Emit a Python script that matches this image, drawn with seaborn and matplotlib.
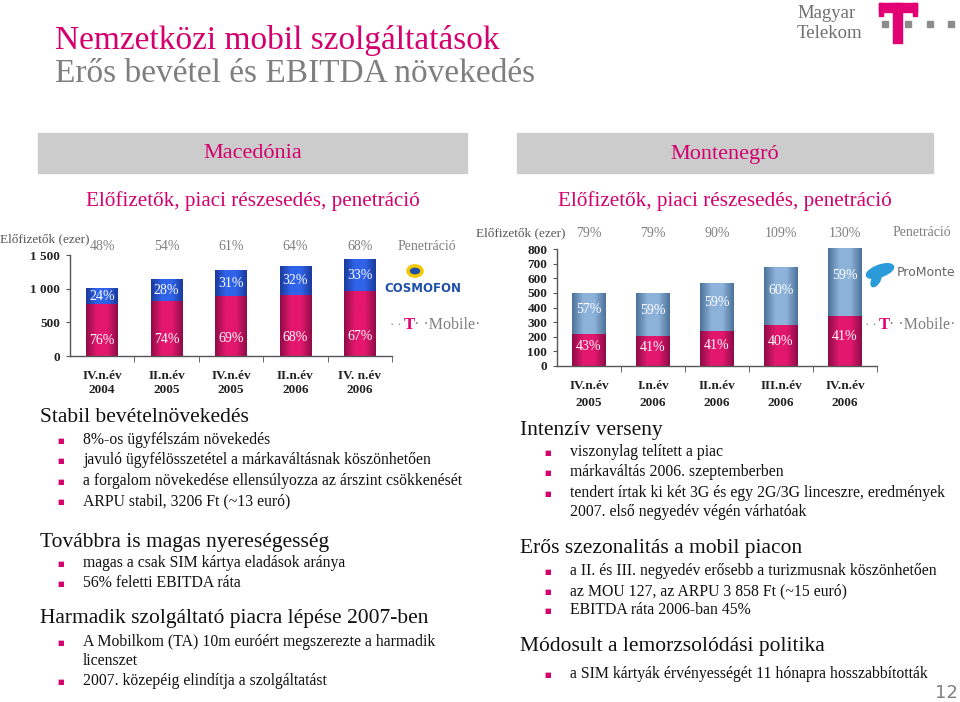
import numpy as np
import matplotlib.pyplot as plt
import matplotlib.colors as mcolors
from matplotlib.patches import Rectangle, Circle, Ellipse
import seaborn as sns

sns.set_style("white")
plt.rcParams['font.family'] = ['Liberation Serif', 'DejaVu Serif']

# Macedónia - subscribers (thousand)
mk_quarters = ['IV.n.év\n2004', 'II.n.év\n2005', 'IV.n.év\n2005', 'II.n.év\n2006', 'IV. n.év\n2006']
mk_tmobile = [770, 810, 885, 905, 960]
mk_cosmofon = [230, 330, 390, 425, 480]
mk_tmobile_share = ['76%', '74%', '69%', '68%', '67%']
mk_cosmofon_share = ['24%', '28%', '31%', '32%', '33%']
mk_penetration = ['48%', '54%', '61%', '64%', '68%']

# Montenegró - subscribers (thousand)
me_quarters = ['IV.n.év\n2005', 'I.n.év\n2006', 'II.n.év\n2006', 'III.n.év\n2006', 'IV.n.év\n2006']
me_tmobile = [215, 205, 235, 275, 340]
me_promonte = [280, 290, 330, 405, 465]
me_tmobile_share = ['43%', '41%', '41%', '40%', '41%']
me_promonte_share = ['57%', '59%', '59%', '60%', '59%']
me_penetration = ['79%', '79%', '90%', '109%', '130%']

MAGENTA = '#D4006E'
GRAY = '#7F7F7F'

W, H = 960, 702
fig = plt.figure(figsize=(9.6, 7.02), dpi=100)


def ft(x, y, s, **kw):
    kw.setdefault('va', 'center')
    return fig.text(x / W, 1 - y / H, s, **kw)


def box(x0, y0, x1, y1, color, **kw):
    # rectangle in pixel coords (top-left origin)
    fig.add_artist(Rectangle((x0 / W, 1 - y1 / H), (x1 - x0) / W, (y1 - y0) / H,
                             transform=fig.transFigure, color=color, **kw))


def shade(ax, patches, dark, light):
    # horizontal gradient like the original cylinder-ish bars
    cmap = mcolors.LinearSegmentedColormap.from_list('g', [dark, light, light, dark])
    grad = np.linspace(0, 1, 64).reshape(1, -1)
    for p in patches:
        x0, y0, w, h = p.get_x(), p.get_y(), p.get_width(), p.get_height()
        ax.imshow(grad, cmap=cmap, extent=[x0, x0 + w, y0, y0 + h], aspect='auto',
                  interpolation='bicubic', zorder=p.get_zorder() + 0.1)


def stacked(ax, quarters, low, high, high_dark, high_light, width):
    totals = [a + b for a, b in zip(low, high)]
    sns.barplot(x=quarters, y=totals, color=high_light, width=width, saturation=1, ax=ax)
    top_patches = list(ax.patches)
    sns.barplot(x=quarters, y=low, color='#C80F5E', width=width, saturation=1, ax=ax)
    low_patches = list(ax.patches[len(top_patches):])
    shade(ax, top_patches, high_dark, high_light)
    shade(ax, low_patches, '#8E0C47', '#E3176E')
    return totals


def style_axis(ax, ymax, yticks, ylabels, linespacing):
    ax.set_xlim(-0.5, 4.5)
    ax.set_ylim(0, ymax)
    ax.set_yticks(yticks)
    ax.set_yticklabels(ylabels, fontsize=9.5, fontweight='bold', color='#222222')
    ax.set_xticks(np.arange(0.5, 5, 1), minor=True)
    ax.tick_params(axis='x', which='major', length=0, pad=10, bottom=True)
    ax.tick_params(axis='x', which='minor', length=4, direction='out', bottom=True, color='#555555')
    ax.tick_params(axis='y', length=3, direction='out', left=True, color='#555555', pad=4)
    for t in ax.get_xticklabels():
        t.set_fontsize(9.5)
        t.set_fontweight('bold')
        t.set_color('#222222')
        t.set_linespacing(linespacing)
        t.set_ha('center')
    ax.set_xlabel('')
    ax.set_ylabel('')
    sns.despine(ax=ax)
    for s in ('left', 'bottom'):
        ax.spines[s].set_color('#555555')
        ax.spines[s].set_linewidth(1)


# ---------- left chart: Macedónia ----------
ax1 = fig.add_axes([70 / W, 1 - 356 / H, 322 / W, 101 / H])
mk_tot = stacked(ax1, mk_quarters, mk_tmobile, mk_cosmofon, '#1B3A9C', '#2F63E8', 0.49)
style_axis(ax1, 1500, [0, 500, 1000, 1500], ['0', '500', '1 000', '1 500'], 1.25)
for i in range(5):
    ax1.text(i, mk_tmobile[i] * 0.3, mk_tmobile_share[i], ha='center', va='center',
             color='white', fontsize=10, zorder=5)
    ax1.text(i, (mk_tmobile[i] + mk_tot[i]) / 2, mk_cosmofon_share[i], ha='center', va='center',
             color='white', fontsize=10, zorder=5)
    ax1.text(i, 1.08, mk_penetration[i], ha='center', va='center', color=GRAY, fontsize=10,
             transform=ax1.get_xaxis_transform())

# ---------- right chart: Montenegró ----------
ax2 = fig.add_axes([557 / W, 1 - 365.7 / H, 320 / W, 116.4 / H])
me_tot = stacked(ax2, me_quarters, me_tmobile, me_promonte, '#4D7299', '#8DB3DA', 0.53)
style_axis(ax2, 800, list(range(0, 801, 100)), [str(v) for v in range(0, 801, 100)], 1.55)
for im in ax2.images:
    im.set_clip_on(False)
for i in range(5):
    ax2.text(i, me_tmobile[i] * 0.6, me_tmobile_share[i], ha='center', va='center',
             color='white', fontsize=10, zorder=5)
    ax2.text(i, (me_tmobile[i] + me_tot[i]) / 2 + me_promonte[i] * 0.1, me_promonte_share[i],
             ha='center', va='center', color='white', fontsize=10, zorder=5)
    ax2.text(i, 1.14, me_penetration[i], ha='center', va='center', color=GRAY, fontsize=10,
             transform=ax2.get_xaxis_transform())

# ---------- header ----------
ft(55, 40, 'Nemzetközi mobil szolgáltatások', color=MAGENTA, fontsize=24)
ft(55, 74, 'Erős bevétel és EBITDA növekedés', color=GRAY, fontsize=24)
ft(797, 13, 'Magyar', color='#6E6E6E', fontsize=13.5)
ft(797, 34, 'Telekom', color='#6E6E6E', fontsize=13.5)
# Telekom "T" logo
box(879, 3, 917, 12, '#E20074')
box(879, 3, 883, 16, '#E20074')
box(913, 3, 917, 16, '#E20074')
box(893, 3, 902, 43, '#E20074')
for x0 in (882, 905, 927, 948):
    box(x0, 21, x0 + 6, 27, '#8C8C8C')

# section boxes
for x0, x1, name in [(38, 467, 'Macedónia'), (517, 933, 'Montenegró')]:
    box(x0, 133, x1, 173, '#CCCCCC', zorder=0)
    ft((x0 + x1) / 2, 154, name, color=MAGENTA, fontsize=16, ha='center')
    ft((x0 + x1) / 2, 201, 'Előfizetők, piaci részesedés, penetráció', color=MAGENTA,
       fontsize=15.2, ha='center')

# chart side labels
ft(0, 239, 'Előfizetők (ezer)', color='#555555', fontsize=9.5)
ft(398, 247, 'Penetráció', color=GRAY, fontsize=10)
ft(476, 233, 'Előfizetők (ezer)', color='#555555', fontsize=9.5)
ft(893, 233, 'Penetráció', color=GRAY, fontsize=10)

# logos
fig.add_artist(Circle((415 / W, 1 - 271 / H), 7 / W, transform=fig.transFigure,
                      facecolor='#1F4FA8', edgecolor='#F2C800', linewidth=2.5))
ft(423, 288, 'COSMOFON', color='#1F4FA8', fontsize=8.5, fontweight='bold', ha='center',
   family='DejaVu Sans')
for x0, y0 in [(390, 325), (865, 325)]:
    ft(x0, y0, '· ·', color=GRAY, fontsize=9)
    ft(x0 + 14, y0, 'T', color='#E20074', fontsize=12, fontweight='bold')
    ft(x0 + 24, y0, '· ·Mobile·', color=GRAY, fontsize=11.5)
fig.add_artist(Ellipse((880 / W, 1 - 271 / H), 30 / W, 11 / H, angle=30,
                       transform=fig.transFigure, color='#2A9BD8'))
fig.add_artist(Ellipse((876 / W, 1 - 280 / H), 8 / W, 14 / H, angle=-20,
                       transform=fig.transFigure, color='#2A9BD8'))
ft(897, 272, 'ProMonte', color='#666666', fontsize=9, family='DejaVu Sans')

# ---------- bullet texts ----------
def heading(x, y, s):
    ft(x, y, s, color='#111111', fontsize=15.5)


def bullet(x, y, s):
    ft(x, y + 1, '■', color=MAGENTA, fontsize=5, ha='center', family='DejaVu Sans')
    ft(x + 22, y, s, color='#111111', fontsize=11.3)


heading(40, 418, 'Stabil bevételnövekedés')
bullet(61, 440, '8%-os ügyfélszám növekedés')
bullet(61, 460, 'javuló ügyfélösszetétel a márkaváltásnak köszönhetően')
bullet(61, 481, 'a forgalom növekedése ellensúlyozza az árszint csökkenését')
bullet(61, 501, 'ARPU stabil, 3206 Ft (~13 euró)')
heading(40, 543, 'Továbbra is magas nyereségesség')
bullet(61, 563, 'magas a csak SIM kártya eladások aránya')
bullet(61, 583, '56% feletti EBITDA ráta')
heading(40, 619, 'Harmadik szolgáltató piacra lépése 2007-ben')
bullet(61, 642, 'A Mobilkom (TA) 10m euróért megszerezte a harmadik')
ft(83, 661, 'licenszet', color='#111111', fontsize=11.3)
bullet(61, 681, '2007. közepéig elindítja a szolgáltatást')

heading(520, 431, 'Intenzív verseny')
bullet(548, 452, 'viszonylag telített a piac')
bullet(548, 472, 'márkaváltás 2006. szeptemberben')
bullet(548, 493, 'tendert írtak ki két 3G és egy 2G/3G linceszre, eredmények')
ft(570, 512, '2007. első negyedév végén várhatóak', color='#111111', fontsize=11.3)
heading(520, 548, 'Erős szezonalitás a mobil piacon')
bullet(548, 571, 'a II. és III. negyedév erősebb a turizmusnak köszönhetően')
bullet(548, 591, 'az MOU 127, az ARPU 3 858 Ft (~15 euró)')
bullet(548, 610, 'EBITDA ráta 2006-ban 45%')
heading(520, 647, 'Módosult a lemorzsolódási politika')
bullet(548, 674, 'a SIM kártyák érvényességét 11 hónapra hosszabbították')

ft(946, 693, '12', color=GRAY, fontsize=13, ha='center', family='DejaVu Sans')

fig.savefig('out.png', dpi=100)
